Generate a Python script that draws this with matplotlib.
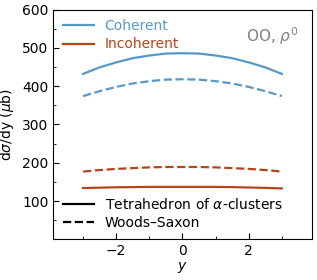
import numpy as np
import matplotlib.pyplot as plt
from matplotlib.lines import Line2D
from matplotlib.ticker import MultipleLocator

rapidity = [-3.0, -2.5, -2.0, -1.5, -1.0, -0.5, 0.0, 0.5, 1.0, 1.5, 2.0, 2.5, 3.0]
coh_tetra = [432, 449, 462, 473, 480, 485, 486, 485, 480, 473, 462, 449, 432]
coh_ws = [374, 387, 398, 407, 413, 417, 418, 417, 413, 407, 398, 387, 374]
incoh_tetra = [134, 135, 136, 136.5, 137, 137, 137, 137, 137, 136.5, 135.5, 134.5, 133]
incoh_ws = [177, 181, 184, 186, 188, 189, 189, 189, 188, 186, 184, 181, 177]

blue = '#5599c8'
red = '#b5441a'

fig, ax = plt.subplots(figsize=(3.17, 2.8), dpi=100)
fig.subplots_adjust(left=0.168, right=0.983, top=0.966, bottom=0.145)

ax.plot(rapidity, coh_tetra, color=blue, lw=1.6)
ax.plot(rapidity, coh_ws, color=blue, lw=1.6, ls='--')
ax.plot(rapidity, incoh_tetra, color=red, lw=1.6)
ax.plot(rapidity, incoh_ws, color=red, lw=1.6, ls='--')

ax.set_xlim(-3.9, 3.9)
ax.set_ylim(0, 600)
ax.set_yticks([100, 200, 300, 400, 500, 600])
ax.xaxis.set_minor_locator(MultipleLocator(1))
ax.yaxis.set_minor_locator(MultipleLocator(50))
ax.tick_params(which='both', direction='in', labelsize=10)
ax.tick_params(which='major', length=4)
ax.tick_params(which='minor', length=2)

ax.set_xlabel('$y$', fontsize=10, labelpad=1)
ax.set_ylabel(r'd$\sigma$/dy ($\mu$b)', fontsize=10)

ax.text(0.95, 0.93, r'OO, $\rho^0$', transform=ax.transAxes, ha='right', va='top',
        fontsize=11, color='gray')

h1 = [Line2D([], [], color=blue, lw=1.6), Line2D([], [], color=red, lw=1.6)]
leg1 = ax.legend(h1, ['Coherent', 'Incoherent'], loc='upper left', frameon=False,
                 fontsize=10, labelcolor=[blue, red], handlelength=2.2,
                 borderaxespad=0.3, labelspacing=0.3)
ax.add_artist(leg1)
h2 = [Line2D([], [], color='black', lw=1.6), Line2D([], [], color='black', lw=1.6, ls='--')]
ax.legend(h2, [r'Tetrahedron of $\alpha$-clusters', 'Woods–Saxon'], loc='lower left',
          frameon=False, fontsize=10, handlelength=2.2, borderaxespad=0.3,
          labelspacing=0.3)

fig.savefig('out.png', dpi=100)
